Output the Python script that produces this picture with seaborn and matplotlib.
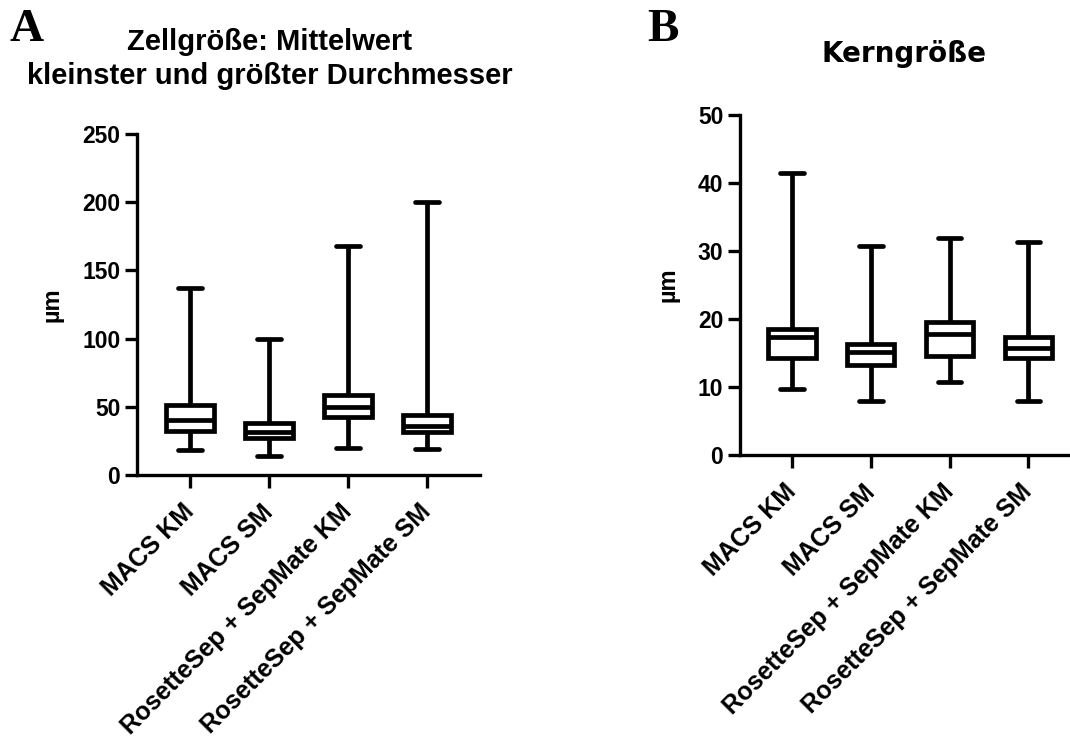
import pandas as pd
import matplotlib.pyplot as plt
import seaborn as sns

# Gruppen
gruppen = ['MACS KM', 'MACS SM', 'RosetteSep + SepMate KM', 'RosetteSep + SepMate SM']

# Zellgröße (µm): Min, Q1, Median, Q3, Max
zell_min = [18, 14, 20, 19]
zell_q1 = [32, 27.4, 42.8, 31.8]
zell_med = [40.1, 31.5, 50.1, 35.9]
zell_q3 = [51.4, 37.8, 58.7, 44.2]
zell_max = [137, 100, 168, 200]

# Kerngröße (µm): Min, Q1, Median, Q3, Max
kern_min = [9.7, 7.9, 10.7, 7.9]
kern_q1 = [14.3, 13.3, 14.5, 14.2]
kern_med = [17.3, 15.1, 17.8, 15.7]
kern_q3 = [18.5, 16.3, 19.5, 17.4]
kern_max = [41.5, 30.8, 31.9, 31.3]


def lange_tabelle(mins, q1s, meds, q3s, maxs):
    zeilen = []
    for g, a, b, c, d, e in zip(gruppen, mins, q1s, meds, q3s, maxs):
        for v in (a, b, c, d, e):
            zeilen.append({'Gruppe': g, 'Wert': v})
    return pd.DataFrame(zeilen)


df_zell = lange_tabelle(zell_min, zell_q1, zell_med, zell_q3, zell_max)
df_kern = lange_tabelle(kern_min, kern_q1, kern_med, kern_q3, kern_max)

sns.set_style("ticks")
plt.rcParams['font.family'] = ['Liberation Sans', 'DejaVu Sans']
plt.rcParams['font.weight'] = 'bold'
for k in ['text.color', 'axes.labelcolor', 'xtick.color', 'ytick.color', 'axes.edgecolor']:
    plt.rcParams[k] = 'black'

fig = plt.figure(figsize=(10.7, 7.38), dpi=100)
ax1 = fig.add_axes([0.128, 0.3564, 0.3206, 0.462])
ax2 = fig.add_axes([0.6916, 0.3835, 0.3064, 0.4607])

lw = 3.4
for ax, df, ymax, step in [(ax1, df_zell, 250, 50), (ax2, df_kern, 50, 10)]:
    sns.boxplot(data=df, x='Gruppe', y='Wert', ax=ax, whis=(0, 100), width=0.6,
                color='white', linecolor='black', linewidth=lw, showfliers=False,
                medianprops={'color': 'black', 'linewidth': lw})
    ax.set_ylim(0, ymax)
    ax.set_yticks(range(0, ymax + 1, step))
    ax.set_xlabel('')
    ax.set_ylabel('µm', fontsize=17, fontweight='bold', labelpad=13)
    for s in ['top', 'right']:
        ax.spines[s].set_visible(False)
    for s in ['left', 'bottom']:
        ax.spines[s].set_linewidth(2.4)
    ax.tick_params(axis='both', width=2.4, length=9)
    ax.tick_params(axis='y', labelsize=16.5, pad=3)
    ax.tick_params(axis='x', labelsize=18, pad=15)
    plt.setp(ax.get_xticklabels(), rotation=45, ha='right', va='center',
             rotation_mode='anchor', fontweight='bold')
    plt.setp(ax.get_yticklabels(), fontweight='bold')

ax1.set_xlim(-0.67, 3.67)
ax2.set_xlim(-0.66, 3.5)

# Titel A in zwei Zeilen
fig.text(0.2523, 0.9322, 'Zellgröße: Mittelwert', fontsize=21, fontweight='bold',
         ha='center', va='baseline')
fig.text(0.2523, 0.8862, 'kleinster und größter Durchmesser', fontsize=21,
         fontweight='bold', ha='center', va='baseline')
ax2.set_title('Kerngröße', fontsize=20, fontweight='bold', pad=38,
              family=['DejaVu Sans'])

fig.text(0.009, 0.945, 'A', fontsize=34, fontweight='bold', family='Liberation Serif')
fig.text(0.605, 0.945, 'B', fontsize=34, fontweight='bold', family='Liberation Serif')

fig.savefig('out.png', dpi=100)
